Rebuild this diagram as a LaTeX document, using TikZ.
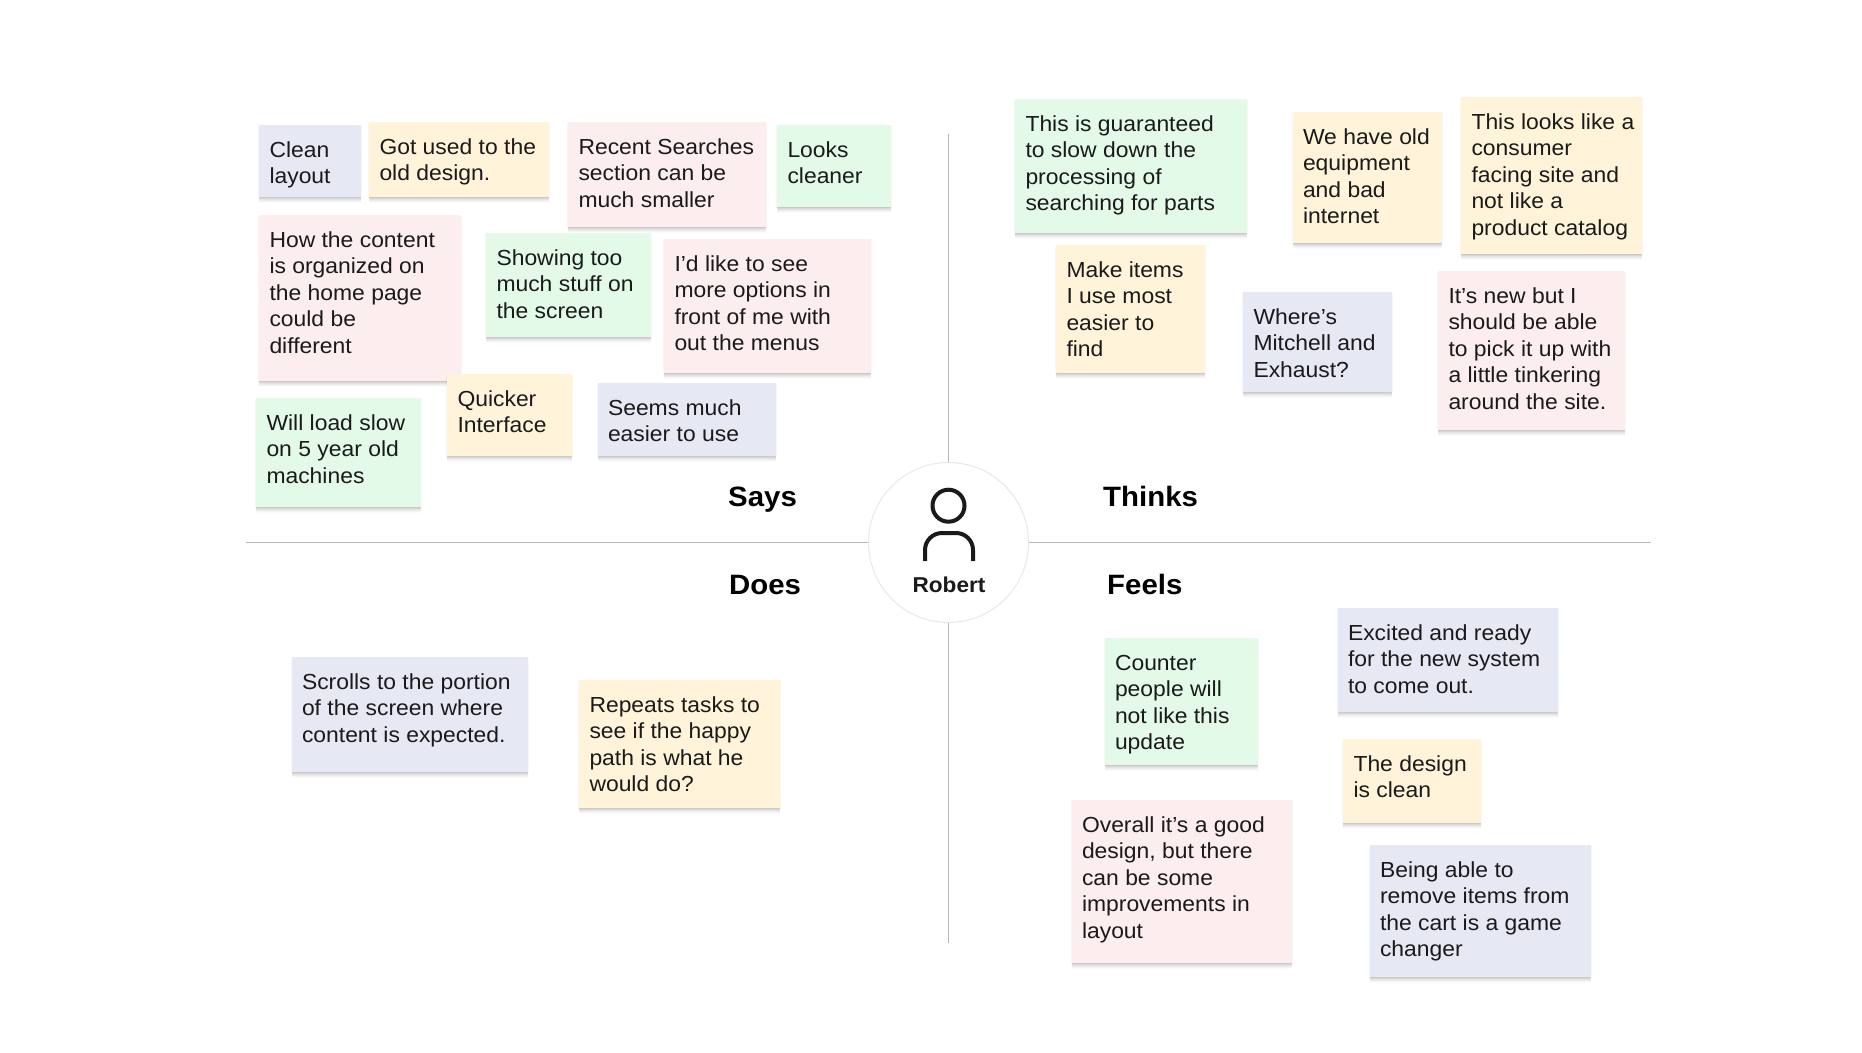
\documentclass[tikz,border=0pt]{standalone}
\usepackage{fontspec}
\setmainfont[FakeStretch=1.05]{Liberation Sans}
\definecolor{bluenote}{HTML}{E6E8F4}
\definecolor{yellownote}{HTML}{FFF4D9}
\definecolor{pinknote}{HTML}{FCEDEE}
\definecolor{greennote}{HTML}{E3FAE9}
\definecolor{inkc}{HTML}{1A1A1A}
\definecolor{axisc}{HTML}{B8B8B8}
\tikzset{
  note/.style={anchor=north west,inner sep=0pt,outer sep=0pt,text=inkc,
    preaction={fill=black,opacity=.015,transform canvas={yshift=-6pt}},
    preaction={fill=black,opacity=.025,transform canvas={yshift=-5pt}},
    preaction={fill=black,opacity=.035,transform canvas={yshift=-4pt}},
    preaction={fill=black,opacity=.04,transform canvas={yshift=-3pt}},
    preaction={fill=black,opacity=.05,transform canvas={yshift=-2pt}},
    preaction={fill=black,opacity=.03,transform canvas={xshift=1pt,yshift=-1pt}},
    preaction={fill=black,opacity=.03,transform canvas={xshift=-1pt,yshift=-1pt}}},
  heading/.style={anchor=base west,inner sep=0pt,font=\fontsize{28}{30}\selectfont\bfseries,text=black},
  axisline/.style={draw=axisc,line width=1.3pt},
  icon/.style={draw=inkc,line width=4pt}
}
\newcommand{\sticky}[7]{%
  \pgfmathsetlengthmacro{\nw}{(#4-#2+1.5)*1pt}%
  \pgfmathsetlengthmacro{\nh}{(#5-#3)*1pt}%
  \pgfmathsetmacro{\nx}{#2-1}%
  \node[note,fill=#6] (#1) at (\nx,#3) {\parbox[c][\nh][t]{\nw}{\fontsize{21.8}{26.5}\selectfont\leftskip=10.5pt\rightskip=-60pt plus 1fil\parindent=0pt\parfillskip=0pt plus 1fil\rule{0pt}{32pt}#7}};%
}
\begin{document}
\begin{tikzpicture}[x=1pt,y=-1pt]
\useasboundingbox (0,0) rectangle (1862,1052);
% centre circle and axes
\node[circle,draw=black!9,line width=1pt,fill=white,minimum size=160pt,inner sep=0pt] (hub) at (948.5,542.5) {};
\coordinate (axisN) at (948.5,134);
\coordinate (axisS) at (948.5,943);
\coordinate (axisW) at (246,542.5);
\coordinate (axisE) at (1650.5,542.5);
\draw[axisline] (hub.north) -- (axisN);
\draw[axisline] (hub.south) -- (axisS);
\draw[axisline] (hub.west) -- (axisW);
\draw[axisline] (hub.east) -- (axisE);
% person icon
\draw[icon] (948.5,505.7) circle (16);
\draw[icon] (925,561) -- (925,550) arc[start angle=180,end angle=90,x radius=17,y radius=-17] -- (956,533) arc[start angle=90,end angle=0,x radius=17,y radius=-17] -- (973,561);
\node[anchor=base,inner sep=0pt,font=\fontsize{21.5}{24}\selectfont\bfseries,text=inkc] (robert) at (949,592.5) {Robert};
% headings
\node[heading] (says) at (728,506) {Says};
\node[heading] (thinks) at (1103,506) {Thinks};
\node[heading] (does) at (729,594) {Does};
\node[heading] (feels) at (1107,594) {Feels};
% Says
\sticky{a1}{260}{125}{360}{197}{bluenote}{Clean\\layout}
\sticky{a2}{370}{122}{548}{197}{yellownote}{Got used to the\\old design.}
\sticky{a3}{569}{122}{765.5}{227}{pinknote}{Recent Searches\\section can be\\much smaller}
\sticky{a4}{778}{125}{890}{207}{greennote}{Looks\\cleaner}
\sticky{a5}{260}{215}{460}{381}{pinknote}{How the content\\is organized on\\the home page\\could be\\different}
\sticky{a6}{487}{233}{650}{337}{greennote}{Showing too\\much stuff on\\the screen}
\sticky{a7}{665}{239}{870}{373}{pinknote}{I'd like to see\\more options in\\front of me with\\out the menus}
\sticky{a8}{448}{374}{571}{456}{yellownote}{Quicker\\Interface}
\sticky{a9}{598.5}{383}{775}{456}{bluenote}{Seems much\\easier to use}
\sticky{a10}{257}{398}{420}{507}{greennote}{Will load slow\\on 5 year old\\machines}
% Thinks
\sticky{b1}{1016}{99}{1246}{233}{greennote}{This is guaranteed\\to slow down the\\processing of\\searching for parts}
\sticky{b2}{1293.5}{112}{1441}{243}{yellownote}{We have old\\equipment\\and bad\\internet}
\sticky{b3}{1462}{97}{1641}{254}{yellownote}{This looks like a\\consumer\\facing site and\\not like a\\product catalog}
\sticky{b4}{1057}{245}{1204}{373}{yellownote}{Make items\\I use most\\easier to\\find}
\sticky{b5}{1244}{292}{1391.5}{392}{bluenote}{Where’s\\Mitchell and\\Exhaust?}
\sticky{b6}{1439}{271}{1624.5}{430}{pinknote}{It’s new but I\\should be able\\to pick it up with\\a little tinkering\\around the site.}
% Does
\sticky{c1}{292.5}{657}{527}{772}{bluenote}{Scrolls to the portion\\of the screen where\\content is expected.}
\sticky{c2}{580}{680}{779}{808}{yellownote}{Repeats tasks to\\see if the happy\\path is what he\\would do?}
% Feels
\sticky{d1}{1105.5}{638}{1257}{765}{greennote}{Counter\\people will\\not like this\\update}
\sticky{d2}{1338.5}{608}{1557.5}{712}{bluenote}{Excited and ready\\for the new system\\to come out.}
\sticky{d3}{1344}{739}{1480.5}{823}{yellownote}{The design\\is clean}
\sticky{d4}{1072.5}{800}{1291.5}{963}{pinknote}{Overall it’s a good\\design, but there\\can be some\\improvements in\\layout}
\sticky{d5}{1370.5}{845}{1590.5}{977}{bluenote}{Being able to\\remove items from\\the cart is a game\\changer}
\end{tikzpicture}
\end{document}
